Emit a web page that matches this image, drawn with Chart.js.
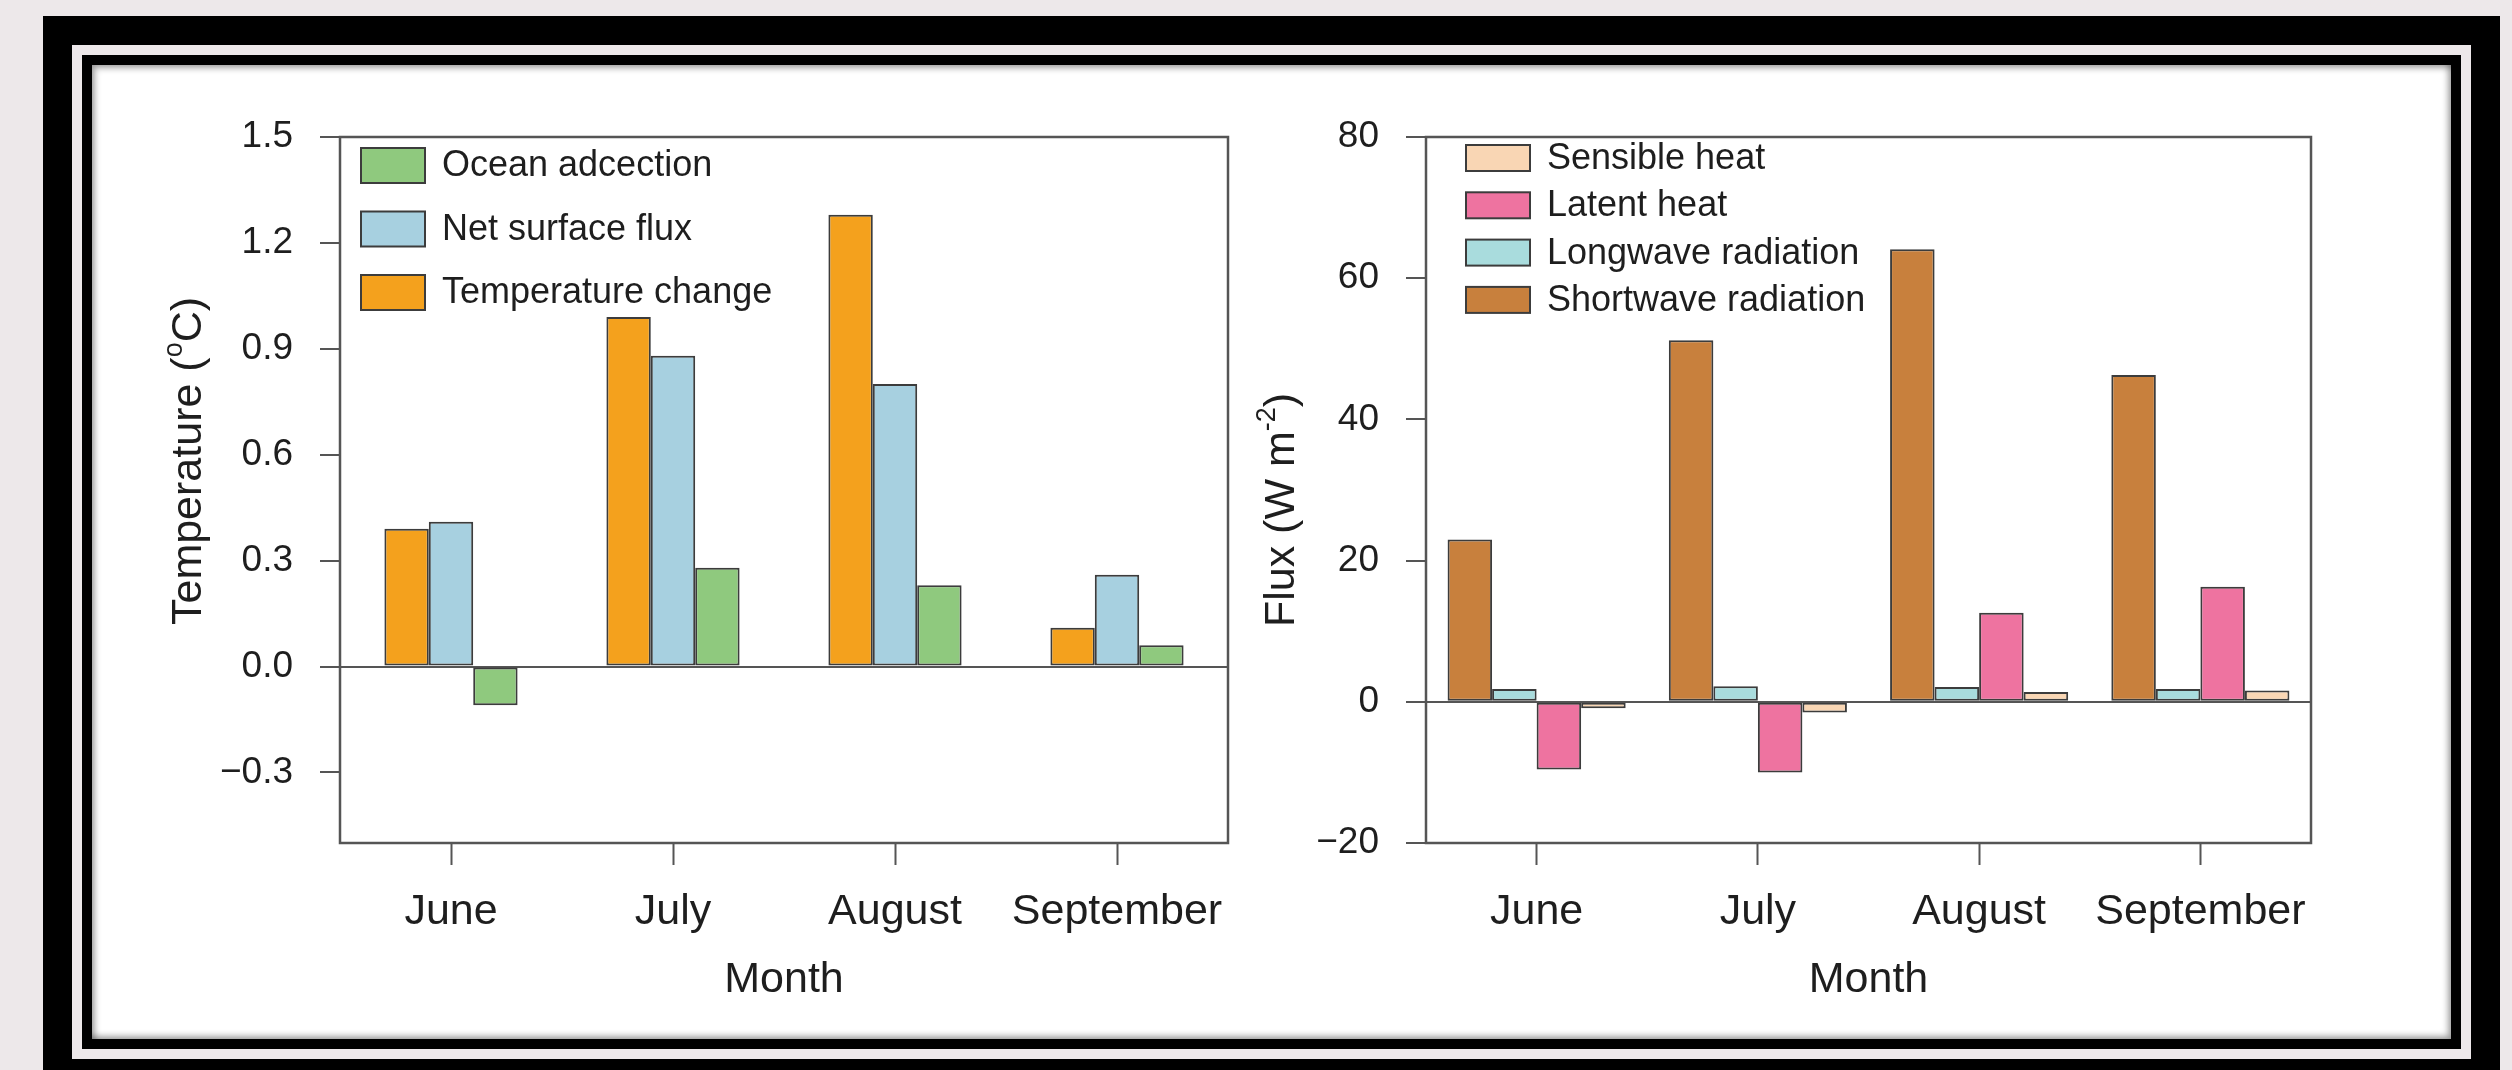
<!DOCTYPE html>
<html>
<head>
<meta charset="utf-8">
<title>Temperature and flux budget</title>
<script src="https://cdn.jsdelivr.net/npm/chart.js@4.4.1/dist/chart.umd.min.js"></script>
<style>
  html, body { margin: 0; padding: 0; }
  body { width: 2512px; height: 1070px; background: #ede8ea; position: relative; overflow: hidden; }
  .box { position: absolute; box-sizing: border-box; }
  #outer { left: 43px; top: 16px; width: 2457px; height: 1072px; background: #000; }
  #gap   { left: 72px; top: 45px; width: 2399px; height: 1014px; background: #ede8ea; }
  #inner { left: 82px; top: 55px; width: 2379px; height: 994px; background: #000; }
  #paper { left: 92px; top: 65px; width: 2359px; height: 974px; background: #fff;
           box-shadow: inset 3px 3px 6px rgba(0,0,0,0.35), inset -3px -3px 6px rgba(0,0,0,0.35); }
  .panel { position: absolute; top: 100px; height: 930px; }
  #leftPanel  { left: 100px;  width: 1140px; }
  #rightPanel { left: 1240px; width: 1200px; }
</style>
</head>
<body>
<div class="box" id="outer"></div>
<div class="box" id="gap"></div>
<div class="box" id="inner"></div>
<div class="box" id="paper"></div>
<div class="panel" id="leftPanel"><canvas id="tempChart"></canvas></div>
<div class="panel" id="rightPanel"><canvas id="fluxChart"></canvas></div>

<script>
// ---- data ----
const MONTHS = ['June', 'July', 'August', 'September'];

// left panel, °C
const TEMP_CHANGE      = [0.39, 0.99, 1.28, 0.11];
const NET_SURFACE_FLUX = [0.41, 0.88, 0.80, 0.26];
const OCEAN_ADVECTION  = [-0.11, 0.28, 0.23, 0.06];
const TEMP_TICKS = [-0.3, 0.0, 0.3, 0.6, 0.9, 1.2, 1.5];

// right panel, W m-2
const SHORTWAVE = [23.0, 51.2, 64.1, 46.3];
const LONGWAVE  = [1.8, 2.2, 2.1, 1.8];
const LATENT    = [-9.6, -10.0, 12.6, 16.3];
const SENSIBLE  = [-0.9, -1.5, 1.4, 1.6];
const FLUX_TICKS = [-20, 0, 20, 40, 60, 80];

const FONT = "'Liberation Sans', Arial, Helvetica, sans-serif";
const INK = '#1e1e1e';
const AXIS = '#555555';
const EDGE = '#3c3c3c';

const minus = s => String(s).replace('-', '\u2212');

function bars(label, data, color) {
  return {
    label, data,
    backgroundColor: color,
    borderColor: EDGE,
    borderWidth: 2,
    borderSkipped: false,
  };
}

// closed box round the plot area
const frameBox = {
  id: 'frameBox',
  afterDatasetsDraw(chart) {
    const { ctx, chartArea: a } = chart;
    ctx.save();
    ctx.strokeStyle = AXIS;
    ctx.lineWidth = 2.5;
    ctx.strokeRect(a.left, a.top, a.right - a.left, a.bottom - a.top);
    ctx.restore();
  },
};

// legend drawn inside the plot, top-left, last dataset first
function boxLegend(o) {
  return {
    id: 'boxLegend',
    afterDraw(chart) {
      const { ctx, chartArea: a } = chart;
      const sets = chart.data.datasets.slice().reverse();
      ctx.save();
      ctx.font = `${o.size}px ${FONT}`;
      ctx.textBaseline = 'middle';
      ctx.textAlign = 'left';
      sets.forEach((ds, i) => {
        const x = a.left + o.x;
        const y = a.top + o.top + i * o.step;
        ctx.fillStyle = ds.backgroundColor;
        ctx.fillRect(x, y, o.w, o.h);
        ctx.strokeStyle = EDGE;
        ctx.lineWidth = 2;
        ctx.strokeRect(x, y, o.w, o.h);
        ctx.fillStyle = INK;
        ctx.fillText(ds.label, a.left + o.textX, y + o.h / 2 + 1);
      });
      ctx.restore();
    },
  };
}

// rotated y title with a superscript part
function yTitle(o) {
  return {
    id: 'yTitle',
    afterDraw(chart) {
      const { ctx } = chart;
      const big = `${o.size}px ${FONT}`;
      const small = `${Math.round(o.size * 0.62)}px ${FONT}`;
      ctx.save();
      let total = 0;
      const widths = o.parts.map(([t, sup]) => {
        ctx.font = sup ? small : big;
        const w = ctx.measureText(t).width;
        total += w;
        return w;
      });
      ctx.translate(o.x, o.y);
      ctx.rotate(-Math.PI / 2);
      ctx.fillStyle = INK;
      ctx.textBaseline = 'middle';
      ctx.textAlign = 'left';
      let x = -total / 2;
      o.parts.forEach(([t, sup], i) => {
        ctx.font = sup ? small : big;
        ctx.fillText(t, x, sup ? -o.size * 0.34 : 0);
        x += widths[i];
      });
      ctx.restore();
    },
  };
}

function makeChart(id, cfg) {
  return new Chart(document.getElementById(id), {
    type: 'bar',
    data: { labels: MONTHS, datasets: cfg.datasets },
    options: {
      responsive: true,
      maintainAspectRatio: false,
      animation: false,
      devicePixelRatio: 1,
      layout: { padding: { top: 37, right: cfg.padRight, left: 0, bottom: 0 } },
      datasets: { bar: { categoryPercentage: cfg.catPct, barPercentage: 1 } },
      plugins: { legend: { display: false }, tooltip: { enabled: false } },
      scales: {
        x: {
          offset: true,
          grid: { offset: false, drawOnChartArea: false, tickLength: 22, tickColor: AXIS, tickWidth: 2 },
          border: { display: false },
          ticks: { color: INK, font: { family: FONT, size: 43 }, padding: 21, maxRotation: 0 },
          title: {
            display: true, text: 'Month', color: INK,
            font: { family: FONT, size: 43 },
            padding: { top: 0, bottom: 24 },
          },
          afterFit: s => {
            s.height = 187;
            s.paddingLeft = 0;
            s.paddingRight = 0;
          },
        },
        y: {
          min: cfg.min,
          max: cfg.max,
          afterBuildTicks: s => { s.ticks = cfg.ticks.map(v => ({ value: v })); },
          grid: {
            color: c => (c.tick && c.tick.value === 0 ? AXIS : 'rgba(0,0,0,0)'),
            lineWidth: 2,
            tickLength: 20,
            tickColor: AXIS,
            tickWidth: 2,
          },
          border: { display: false },
          ticks: { color: INK, font: { family: FONT, size: 37 }, padding: 27, callback: cfg.fmt },
          afterFit: s => {
            s.width = cfg.yWidth;
            s.paddingTop = 0;
            s.paddingBottom = 0;
          },
        },
      },
    },
    plugins: [frameBox, boxLegend(cfg.legend), yTitle(cfg.title)],
  });
}

makeChart('tempChart', {
  datasets: [
    bars('Temperature change', TEMP_CHANGE, '#f4a11d'),
    bars('Net surface flux', NET_SURFACE_FLUX, '#a7d0e0'),
    bars('Ocean adcection', OCEAN_ADVECTION, '#8fc97e'),
  ],
  catPct: 0.6,
  padRight: 12,
  yWidth: 240,
  min: -0.5, max: 1.5,
  ticks: TEMP_TICKS,
  fmt: v => minus(v.toFixed(1)),
  legend: { x: 21, w: 64, h: 35, top: 11, step: 63.5, textX: 102, size: 36 },
  title: { x: 89, y: 361, size: 43, parts: [['Temperature (', false], ['o', true], ['C)', false]] },
});

makeChart('fluxChart', {
  datasets: [
    bars('Shortwave radiation', SHORTWAVE, '#c8803d'),
    bars('Longwave radiation', LONGWAVE, '#a9dcdd'),
    bars('Latent heat', LATENT, '#ee73a0'),
    bars('Sensible heat', SENSIBLE, '#f9d6b4'),
  ],
  catPct: 0.805,
  padRight: 129,
  yWidth: 186,
  min: -20, max: 80,
  ticks: FLUX_TICKS,
  fmt: v => minus(String(v)),
  legend: { x: 40, w: 64, h: 26, top: 8, step: 47.3, textX: 121, size: 36 },
  title: { x: 42, y: 410, size: 43, parts: [['Flux (W m', false], ['-2', true], [')', false]] },
});
</script>
</body>
</html>
